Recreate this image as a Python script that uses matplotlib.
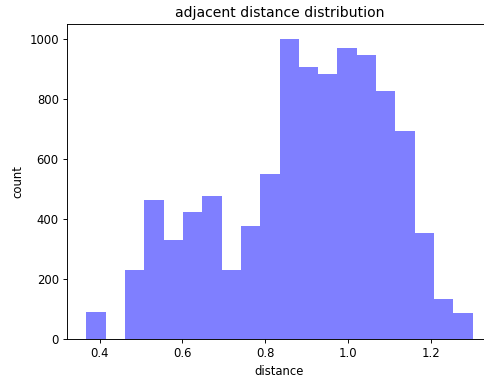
import matplotlib
matplotlib.use('Agg')
import matplotlib.pyplot as plt
import numpy as np

# histogram counts (20 equal bins)
bin_lo = 0.3678
bin_hi = 1.3009
counts = [90, 0, 232, 464, 331, 425, 477, 230, 376, 551,
          1000, 906, 883, 969, 947, 828, 695, 355, 133, 87]

edges = np.linspace(bin_lo, bin_hi, len(counts) + 1)
centers = (edges[:-1] + edges[1:]) / 2

# the original looks like a scaled-down render, so use a lower dpi
dpi = 84
fig = plt.figure(figsize=(484 / dpi, 379 / dpi), dpi=dpi)
# axes run slightly past the right edge, like the cropped original
ax = fig.add_axes([67 / 484, (379 - 339.3) / 379, (492 - 67) / 484, (339.3 - 24) / 379])

ax.hist(centers, bins=edges, weights=counts, color='blue', alpha=0.5)

ax.set_title('adjacent distance distribution')
ax.set_xlabel('distance')
ax.set_ylabel('count')
ax.set_xticks([0.4, 0.6, 0.8, 1.0, 1.2])

fig.savefig('out.png', dpi=dpi)
